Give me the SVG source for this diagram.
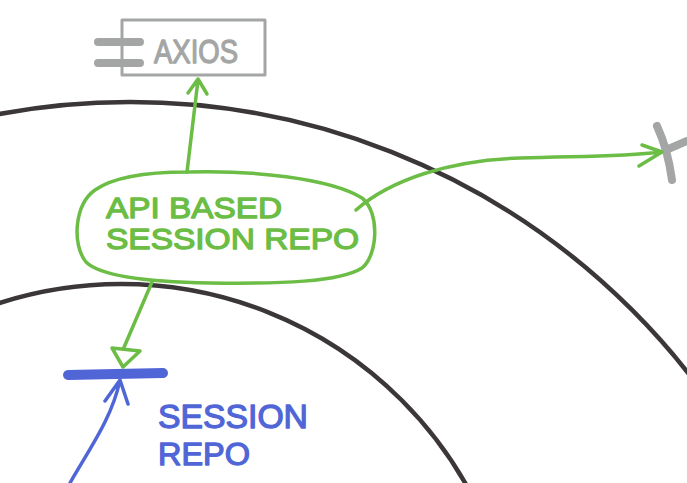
<svg xmlns="http://www.w3.org/2000/svg" width="687" height="483" viewBox="0 0 687 483">
<style>
.ring{fill:none;stroke:#3b3738;stroke-width:4.5;stroke-linecap:round}
.g{fill:none;stroke:#6cbd45;stroke-width:3.5;stroke-linecap:round;stroke-linejoin:round}
.b{fill:none;stroke:#5166d6;stroke-width:3.5;stroke-linecap:round;stroke-linejoin:round}
.gr{fill:none;stroke:#a4a6a6;stroke-linecap:round;stroke-linejoin:round}
.t{font-family:"Liberation Sans",Arial,sans-serif;stroke-width:1.3;stroke-linejoin:round}
</style>
<rect width="687" height="483" fill="#ffffff"/>
<g id="rings">
<circle class="ring" cx="130" cy="812" r="710"/>
<circle class="ring" cx="121" cy="681" r="397"/>
</g>
<g id="axios">
<rect class="gr" x="122" y="20" width="143" height="55" stroke-width="3"/>
<path class="gr" d="M98,42 L140,42 M98,63 L140,63" stroke-width="8"/>
<text class="t" x="154" y="63" font-size="34" fill="#a4a6a6" stroke="#a4a6a6" textLength="84" lengthAdjust="spacingAndGlyphs">AXIOS</text>
</g>
<g id="external">
<path class="gr" d="M657,126 Q668,150 672,180 M666,150 L687,141" stroke-width="8"/>
</g>
<g id="connectors">
<path class="g" d="M187,172 L198,80 M188,93 L198,79 L207,94"/>
<path class="g" d="M356,210 C390,180 450,160 520,158 C580,156 620,157 662,152 M642,145 L662,152 L639,166"/>
<path class="g" d="M152,282 L122,352"/>
<path d="M112,348 L140,351 L123,367 Z" fill="#ffffff" stroke="#6cbd45" stroke-width="3.5" stroke-linejoin="round"/>
<path class="b" d="M70,483 C90,448 112,418 120,380 M105,401 L120,380 L128,404"/>
</g>
<g id="api-repo">
<path class="g" d="M187,172 C250,170 330,178 362,198 C380,212 378,255 362,268 C340,282 280,284 210,283 C150,282 100,276 86,262 C72,245 74,205 95,190 C115,176 150,172 187,172 Z"/>
<text class="t" x="106" y="218" font-size="30" fill="#6cbd45" stroke="#6cbd45" textLength="176" lengthAdjust="spacingAndGlyphs">API BASED</text>
<text class="t" x="106" y="249" font-size="30" fill="#6cbd45" stroke="#6cbd45" textLength="253" lengthAdjust="spacingAndGlyphs">SESSION REPO</text>
</g>
<g id="session-repo">
<path d="M68,375 L163,373" stroke="#5166d6" stroke-width="10" stroke-linecap="round"/>
<text class="t" x="158" y="428" font-size="34" fill="#5166d6" stroke="#5166d6" textLength="150" lengthAdjust="spacingAndGlyphs">SESSION</text>
<text class="t" x="158" y="465" font-size="32" fill="#5166d6" stroke="#5166d6" textLength="92" lengthAdjust="spacingAndGlyphs">REPO</text>
</g>
</svg>
